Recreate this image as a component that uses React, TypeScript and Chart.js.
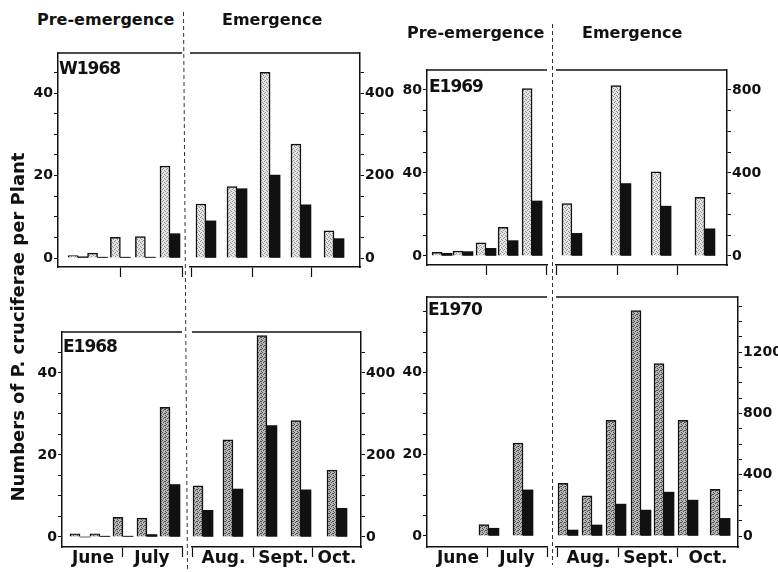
import React, { useEffect, useRef } from "react";
import { Chart, registerables } from "chart.js";

Chart.register(...registerables);

// ---------------- Data ----------------
// Sampling dates: pre-emergence = days since 1 June, emergence = days since 1 August
// Stippled bars = first series, black bars = second series

// W1968
const w68PreDays = [8.2, 18.1, 29.7, 42.4, 54.9];
const w68PreStippled = [0.6, 1.2, 5.0, 5.2, 22.3];
const w68PreBlack = [0.3, 0.2, 0.2, 0.2, 5.9];
const w68EmDays = [7.1, 22.9, 39.7, 55.4, 72.2];
const w68EmStippled = [131, 173, 450, 276, 66];
const w68EmBlack = [90, 168, 201, 129, 47];

// E1969
const e69PreDays = [7.3, 18.1, 30, 41.4, 53.8];
const e69PreStippled = [1.8, 2.4, 6.4, 13.8, 80.7];
const e69PreBlack = [1.3, 2.1, 3.7, 7.4, 26.5];
const e69EmDays = [7.6, 32.5, 52.9, 75.2];
const e69EmStippled = [253, 821, 405, 282];
const e69EmBlack = [109, 349, 240, 131];

// E1968
const e68PreDays = [8.3, 18.6, 30.5, 42.9, 54.8];
const e68PreStippled = [0.8, 0.8, 4.8, 4.6, 31.6];
const e68PreBlack = [0, 0.2, 0.2, 0.6, 12.8];
const e68EmDays = [5.1, 20.3, 37.6, 54.9, 73.2];
const e68EmStippled = [125, 237, 491, 284, 163];
const e68EmBlack = [65, 117, 272, 115, 70];

// E1970
const e70PreDays = [31, 48.6];
const e70PreStippled = [2.8, 22.8];
const e70PreBlack = [1.9, 11.3];
const e70EmDays = [5.1, 17.3, 29.5, 42.2, 53.9, 66.1, 82.4];
const e70EmStippled = [343, 262, 755, 1471, 1124, 755, 304];
const e70EmBlack = [39, 72, 208, 169, 286, 234, 115];

// Months
const preMonths = ["June", "July"];
const emMonths = ["Aug.", "Sept.", "Oct."];
const preMonthStarts = [0, 30, 61]; // 1 June, 1 July, 1 Aug
const emMonthStarts = [0, 31, 61, 92]; // 1 Aug, 1 Sept, 1 Oct, 1 Nov
const preTickDays = [30, 61];
const emTickDays = [0, 31, 61];

// Y tick labels
const ticks50 = [0, 20, 40];
const ticks500 = [0, 200, 400];
const ticks90 = [0, 40, 80];
const ticks900 = [0, 400, 800];
const ticks1500 = [0, 400, 800, 1200];

const panelLabels = ["W1968", "E1969", "E1968", "E1970"];
const phaseTitles = ["Pre-emergence", "Emergence"];
const yTitle = "Numbers of P. cruciferae per Plant";

// ---------------- Layout ----------------
type Sub = {
  kind: "pre" | "em";
  box: [number, number, number, number];
  x: [number, number];
  y: [number, number];
  yStep: number;
  yTickMax: number;
  yLabels: number[];
  days: number[];
  st: number[];
  bl: number[];
  bottom: boolean;
};

const subs: Sub[] = [
  { kind: "pre", box: [58, 53, 182, 267], x: [-2, 61], y: [-2.18, 49.7], yStep: 5, yTickMax: 45, yLabels: ticks50, days: w68PreDays, st: w68PreStippled, bl: w68PreBlack, bottom: false },
  { kind: "em", box: [190, 53, 360, 267], x: [-1, 85.4], y: [-21.8, 497], yStep: 50, yTickMax: 450, yLabels: ticks500, days: w68EmDays, st: w68EmStippled, bl: w68EmBlack, bottom: false },
  { kind: "pre", box: [427, 70, 547, 265], x: [-0.5, 61.5], y: [-4.34, 89.6], yStep: 10, yTickMax: 80, yLabels: ticks90, days: e69PreDays, st: e69PreStippled, bl: e69PreBlack, bottom: false },
  { kind: "em", box: [556, 70, 727, 265], x: [-0.5, 86.4], y: [-43.4, 896], yStep: 100, yTickMax: 800, yLabels: ticks900, days: e69EmDays, st: e69EmStippled, bl: e69EmBlack, bottom: false },
  { kind: "pre", box: [62, 332, 182, 547], x: [-1, 61], y: [-2.44, 50], yStep: 5, yTickMax: 45, yLabels: ticks50, days: e68PreDays, st: e68PreStippled, bl: e68PreBlack, bottom: true },
  { kind: "em", box: [192, 332, 361, 547], x: [-0.5, 85.4], y: [-24.4, 500], yStep: 50, yTickMax: 450, yLabels: ticks500, days: e68EmDays, st: e68EmStippled, bl: e68EmBlack, bottom: true },
  { kind: "pre", box: [427, 297, 547, 547], x: [-1, 61], y: [-2.7, 58.6], yStep: 5, yTickMax: 55, yLabels: ticks50, days: e70PreDays, st: e70PreStippled, bl: e70PreBlack, bottom: true },
  { kind: "em", box: [556, 297, 738, 547], x: [-1, 91.5], y: [-71.7, 1559], yStep: 100, yTickMax: 1500, yLabels: ticks1500, days: e70EmDays, st: e70EmStippled, bl: e70EmBlack, bottom: true },
];

const FONT = "'DejaVu Sans', sans-serif";
const INK = "#111";
const YW = 44;
const PAD = 6;
const TOPPAD = 12;

function makeStipple(dark: boolean): CanvasPattern | string {
  const c = document.createElement("canvas");
  c.width = 4;
  c.height = 4;
  const g = c.getContext("2d");
  if (!g) return dark ? "#999" : "#ccc";
  g.fillStyle = dark ? "#b8b8b8" : "#e4e4e4";
  g.fillRect(0, 0, 4, 4);
  g.fillStyle = dark ? "#505050" : "#909090";
  const pts = dark ? [[0, 0], [2, 1], [1, 2], [3, 3], [3, 1]] : [[0, 0], [2, 1], [1, 3], [3, 2]];
  pts.forEach(([a, b]) => g.fillRect(a, b, 1, 1));
  return g.createPattern(c, "repeat") || (dark ? "#999" : "#ccc");
}

const topBorder = {
  id: "topBorder",
  afterDraw(chart: any) {
    const { ctx, chartArea: a } = chart;
    ctx.save();
    ctx.strokeStyle = INK;
    ctx.lineWidth = 1.5;
    ctx.beginPath();
    ctx.moveTo(a.left, a.top);
    ctx.lineTo(a.right, a.top);
    ctx.stroke();
    ctx.restore();
  },
};

function canvasRect(sp: Sub) {
  const [L, T, R, B] = sp.box;
  const XH = sp.bottom ? 25 : 14;
  const isPre = sp.kind === "pre";
  const left = isPre ? L - YW : L - PAD;
  const width = isPre ? R - L + YW + PAD : R - L + PAD + YW;
  return { left, top: T - TOPPAD, width, height: B - T + TOPPAD + XH, XH };
}

function SubChart({ sp }: { sp: Sub }) {
  const ref = useRef<HTMLCanvasElement | null>(null);
  const rect = canvasRect(sp);
  useEffect(() => {
    if (!ref.current) return;
    const isPre = sp.kind === "pre";
    const months = isPre ? preMonths : emMonths;
    const starts = isPre ? preMonthStarts : emMonthStarts;
    const bounds = (isPre ? preTickDays : emTickDays).filter((v) => v >= sp.x[0] && v <= sp.x[1] + 0.01);
    const mids: number[] = [];
    if (sp.bottom) {
      months.forEach((_, i) => {
        const a = Math.max(starts[i], sp.x[0]);
        const b = Math.min(starts[i + 1], sp.x[1]);
        mids.push((a + b) / 2);
      });
    }
    const labelMap = new Map<number, string>();
    mids.forEach((m, i) => labelMap.set(m, months[i]));
    const boundSet = new Set(bounds);
    const xTicks = [...bounds, ...mids].sort((a, b) => a - b);
    const yTicks: number[] = [];
    for (let k = 0; k * sp.yStep <= sp.yTickMax; k++) yTicks.push(k * sp.yStep);
    const pattern = makeStipple(sp.bottom);

    const chart = new Chart(ref.current, {
      type: "bar",
      data: {
        datasets: [
          {
            data: sp.days.map((d, i) => ({ x: d, y: sp.st[i] })),
            backgroundColor: pattern as any,
            borderColor: INK,
            borderWidth: 1.5,
            barThickness: 10,
          },
          {
            data: sp.days.map((d, i) => ({ x: d, y: sp.bl[i] })),
            backgroundColor: INK,
            borderWidth: 0,
            barThickness: 10,
          },
        ],
      },
      options: {
        responsive: false,
        animation: false,
        events: [],
        layout: { padding: { left: isPre ? 0 : PAD, right: isPre ? PAD : 0, top: TOPPAD, bottom: 0 } },
        plugins: { legend: { display: false }, tooltip: { enabled: false }, title: { display: false } },
        scales: {
          x: {
            type: "linear",
            min: sp.x[0],
            max: sp.x[1],
            offset: false,
            grid: {
              offset: false,
              display: true,
              drawOnChartArea: false,
              drawTicks: true,
              tickLength: 10,
              tickWidth: 1.2,
              tickColor: (ctx: any) => (ctx.tick && boundSet.has(ctx.tick.value) ? INK : "rgba(0,0,0,0)"),
            },
            border: { display: true, color: INK, width: 1.5 },
            ticks: {
              autoSkip: false,
              maxRotation: 0,
              minRotation: 0,
              padding: -7,
              color: INK,
              font: { family: FONT, size: 17, weight: "bold", lineHeight: 1 },
              callback: (v: any) => labelMap.get(v) ?? "",
            },
            afterBuildTicks: (s: any) => {
              s.ticks = xTicks.map((v) => ({ value: v }));
            },
            afterFit: (s: any) => {
              s.height = rect.XH;
            },
          },
          y: {
            type: "linear",
            position: isPre ? "left" : "right",
            min: sp.y[0],
            max: sp.y[1],
            grid: { display: true, drawOnChartArea: false, drawTicks: true, tickLength: 4, tickColor: INK, tickWidth: 1 },
            border: { display: true, color: INK, width: 1.5 },
            ticks: {
              autoSkip: false,
              padding: 1,
              color: INK,
              font: { family: FONT, size: 14, weight: "bold" },
              callback: (v: any) => (sp.yLabels.includes(v) ? String(v) : ""),
            },
            afterBuildTicks: (s: any) => {
              s.ticks = yTicks.map((v) => ({ value: v }));
            },
            afterFit: (s: any) => {
              s.width = YW;
            },
          },
        },
      } as any,
      plugins: [topBorder],
    });
    return () => chart.destroy();
  }, []);
  return (
    <canvas
      ref={ref}
      width={rect.width}
      height={rect.height}
      style={{ position: "absolute", left: rect.left, top: rect.top, width: rect.width, height: rect.height }}
    />
  );
}

const textBase: React.CSSProperties = {
  position: "absolute",
  fontFamily: FONT,
  fontWeight: "bold",
  color: INK,
  lineHeight: 1,
  whiteSpace: "nowrap",
};

export default function App() {
  const titles = [
    { t: phaseTitles[0], left: 37, top: 12 },
    { t: phaseTitles[1], left: 222, top: 12 },
    { t: phaseTitles[0], left: 407, top: 25 },
    { t: phaseTitles[1], left: 582, top: 25 },
  ];
  const labels = [
    { t: panelLabels[0], left: 59, top: 60 },
    { t: panelLabels[1], left: 429, top: 78 },
    { t: panelLabels[2], left: 63, top: 338 },
    { t: panelLabels[3], left: 428, top: 301 },
  ];
  return (
    <div style={{ position: "absolute", left: 0, top: 0, width: 778, height: 572, background: "#fff", overflow: "hidden" }}>
      {subs.map((sp, i) => (
        <SubChart key={i} sp={sp} />
      ))}
      {titles.map((o, i) => (
        <div key={"t" + i} style={{ ...textBase, left: o.left, top: o.top, fontSize: 16 }}>
          {o.t}
        </div>
      ))}
      {labels.map((o, i) => (
        <div key={"l" + i} style={{ ...textBase, left: o.left, top: o.top, fontSize: 17, letterSpacing: -1 }}>
          {o.t}
        </div>
      ))}
      <div
        style={{
          ...textBase,
          left: 18,
          top: 327,
          fontSize: 18,
          transform: "translate(-50%, -50%) rotate(-90deg)",
        }}
      >
        {yTitle}
      </div>
      <svg width={778} height={572} style={{ position: "absolute", left: 0, top: 0, pointerEvents: "none" }}>
        <line x1={183.5} y1={12} x2={187.5} y2={572} stroke="#333" strokeWidth={1} strokeDasharray="4 3" />
        <line x1={552.5} y1={24} x2={552.5} y2={565} stroke="#333" strokeWidth={1} strokeDasharray="4 3" />
      </svg>
    </div>
  );
}
